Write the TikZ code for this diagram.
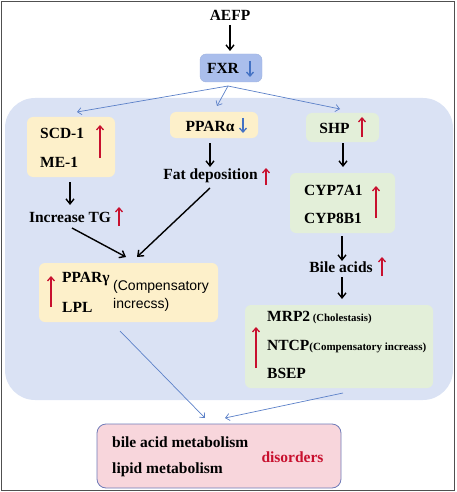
\documentclass[tikz,border=0pt]{standalone}
\usepackage{fontspec}
\setmainfont{Liberation Serif}
\setsansfont{Liberation Sans}
\usetikzlibrary{arrows.meta}
\definecolor{regionblue}{HTML}{DAE2F4}
\definecolor{fxrblue}{HTML}{AABEEC}
\definecolor{boxyellow}{HTML}{FDF0CA}
\definecolor{boxgreen}{HTML}{E3EFD9}
\definecolor{boxpink}{HTML}{F8D6DC}
\definecolor{pinkborder}{HTML}{6F7BB8}
\definecolor{downblue}{HTML}{4472C4}
\definecolor{linkblue}{HTML}{5B80C8}
\definecolor{upred}{HTML}{C8102E}
\definecolor{frame}{HTML}{505050}
\tikzset{
  box/.style={rounded corners=6pt, draw=none, inner sep=0pt},
  lbl/.style={font=\fontsize{15.5}{16}\selectfont\bfseries, inner sep=0pt},
  sans/.style={font=\sffamily\fontsize{14}{15}\selectfont, inner sep=0pt},
  blk/.style={draw=black, line width=1.4pt, -{Straight Barb[length=5pt,width=8pt]}},
  thin/.style={draw=linkblue, line width=0.7pt, -{Straight Barb[length=4pt,width=7pt]}},
  upr/.style={draw=upred, line width=1.3pt, -{Straight Barb[length=4pt,width=7pt]}},
  dnb/.style={draw=downblue, line width=1.3pt, -{Straight Barb[length=4pt,width=7pt]}},
}
\begin{document}
\begin{tikzpicture}[x=1pt,y=-1pt]
\useasboundingbox (0,0) rectangle (457,492);
% frame and region
\fill[regionblue, rounded corners=30pt] (5,98) rectangle (453,400);
\draw[frame, line width=1.6pt] (1.5,1.5) rectangle (454.5,490.5);

% AEFP and FXR
\node[lbl] (aefp) at (230,15) {AEFP};
\node[box, fill=fxrblue, draw=fxrblue!85!black!40!fxrblue, line width=0.4pt, minimum width=62pt, minimum height=28pt] (fxr) at (231,68) {};
\node[lbl] (fxrt) at (223,68) {FXR};
\coordinate (fxra1) at (250,61); \coordinate (fxra2) at (250,77);
\draw[dnb] (fxra1) -- (fxra2);
\coordinate (fxrb) at (228,86);
\coordinate (a1) at (230,25); \coordinate (a2) at (230,51);
\draw[blk] (a1) -- (a2);

% second row
\node[box, fill=boxyellow, minimum width=88pt, minimum height=60pt] (scd) at (71,147) {};
\node[lbl, anchor=west] (scdt) at (40,133) {SCD-1};
\node[lbl, anchor=west] (met) at (40,162) {ME-1};
\coordinate (r1a) at (100,158); \coordinate (r1b) at (100,125);
\draw[upr] (r1a) -- (r1b);

\node[box, fill=boxyellow, minimum width=88pt, minimum height=26pt] (ppara) at (214,125) {};
\node[lbl] (pparat) at (210,126) {PPARα};
\coordinate (pa1) at (243,118); \coordinate (pa2) at (243,133);
\draw[dnb] (pa1) -- (pa2);

\node[box, fill=boxgreen, minimum width=73pt, minimum height=29pt] (shp) at (342.5,127.5) {};
\node[lbl] (shpt) at (334.5,128) {SHP};
\coordinate (sa1) at (362,137); \coordinate (sa2) at (362,117);
\draw[upr] (sa1) -- (sa2);

\coordinate (tscd) at (77,112);
\coordinate (tppa) at (217,106);
\coordinate (tshp) at (340,109);
\draw[thin] (fxrb) -- (tscd);
\draw[thin] (fxrb) -- (tppa);
\draw[thin] (fxrb) -- (tshp);

% left column
\node[lbl] (fat) at (210.5,176) {Fat deposition};
\coordinate (fa1) at (266,185); \coordinate (fa2) at (266,168);
\draw[upr] (fa1) -- (fa2);
\coordinate (p1) at (210,143); \coordinate (p2) at (210,167);
\draw[blk] (p1) -- (p2);

\node[lbl] (tg) at (70,217) {Increase TG};
\coordinate (ta1) at (119,226); \coordinate (ta2) at (119,207);
\draw[upr] (ta1) -- (ta2);
\coordinate (s1) at (70,182); \coordinate (s2) at (70,205);
\draw[blk] (s1) -- (s2);

\node[box, fill=boxyellow, minimum width=179pt, minimum height=59pt] (pparg) at (128.5,292.5) {};
\node[lbl, anchor=west] (ppargt) at (62,279) {PPARγ};
\node[lbl, anchor=west] (lpl) at (62,307) {LPL};
\node[sans, anchor=west] (comp1) at (113,287) {(Compensatory};
\node[sans, anchor=west] (comp2) at (113,305) {increcss)};
\coordinate (ga1) at (51,307); \coordinate (ga2) at (51,276);
\draw[upr] (ga1) -- (ga2);

\coordinate (tg1) at (72,228); \coordinate (tg2) at (126,257);
\coordinate (fd1) at (210,188); \coordinate (fd2) at (137,257);
\draw[blk] (tg1) -- (tg2);
\draw[blk] (fd1) -- (fd2);

% right column
\coordinate (h1) at (343,143); \coordinate (h2) at (343,167);
\draw[blk] (h1) -- (h2);
\node[box, fill=boxgreen, minimum width=105pt, minimum height=60pt] (cyp) at (342.5,203) {};
\node[lbl, anchor=west] (cyp7) at (304,190) {CYP7A1};
\node[lbl, anchor=west] (cyp8) at (304,218) {CYP8B1};
\coordinate (ca1) at (376,218); \coordinate (ca2) at (376,186);
\draw[upr] (ca1) -- (ca2);

\coordinate (c1) at (342,236); \coordinate (c2) at (342,261);
\draw[blk] (c1) -- (c2);
\node[lbl] (bile) at (341,267) {Bile acids};
\coordinate (ba1) at (382,276); \coordinate (ba2) at (382,257);
\draw[upr] (ba1) -- (ba2);
\coordinate (b1) at (342,277); \coordinate (b2) at (342,299);
\draw[blk] (b1) -- (b2);

\node[box, fill=boxgreen, minimum width=188pt, minimum height=83pt] (mrp) at (339,346.5) {};
\node[lbl, anchor=west] (mrp2) at (267,318) {MRP2\,\textnormal{\bfseries\fontsize{10.8}{12}\selectfont(Cholestasis)}};
\node[lbl, anchor=west] (ntcp) at (267,347) {NTCP\textnormal{\bfseries\fontsize{11}{12}\selectfont(Compensatory increass)}};
\node[lbl, anchor=west] (bsep) at (267,373) {BSEP};
\coordinate (ma1) at (256,368); \coordinate (ma2) at (256,327);
\draw[upr] (ma1) -- (ma2);

% bottom
\node[box, fill=boxpink, draw=pinkborder, line width=0.8pt, rounded corners=9pt, minimum width=244pt, minimum height=64pt] (dis) at (219,456) {};
\node[lbl, anchor=west] (bam) at (112,442) {bile acid metabolism};
\node[lbl, anchor=west] (lm) at (112,470) {lipid metabolism};
\node[lbl, text=upred] (disord) at (292.5,457) {disorders};

\coordinate (l1) at (120,331); \coordinate (l2) at (205,418);
\coordinate (m1) at (343,393); \coordinate (m2) at (225,418);
\draw[thin] (l1) -- (l2);
\draw[thin] (m1) -- (m2);
\end{tikzpicture}
\end{document}
